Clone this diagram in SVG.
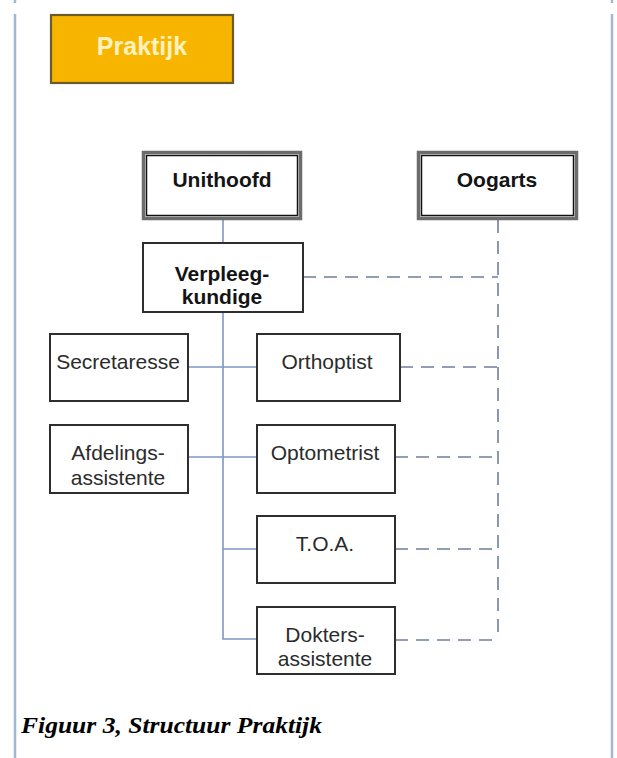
<svg xmlns="http://www.w3.org/2000/svg" width="617" height="758" viewBox="0 0 617 758">
  <style>
    .frame { stroke: #a3b8d0; stroke-width: 2.5; fill: none; }
    .box { fill: #ffffff; stroke: #2e2e2e; stroke-width: 2; }
    .outer { fill: #ffffff; stroke: #6c6c6c; stroke-width: 3.5; }
    .inner { fill: none; stroke: #111111; stroke-width: 1.5; }
    .solid { stroke: #7f97c4; stroke-width: 1.6; fill: none; }
    .dash { stroke: #6f7f9f; stroke-width: 1.6; fill: none; stroke-dasharray: 13 8; }
    .bold { font-family: "Liberation Sans", Arial, sans-serif; font-weight: bold; font-size: 21px; fill: #141414; text-anchor: middle; }
    .reg { font-family: "Liberation Sans", Arial, sans-serif; font-size: 21px; fill: #2b2b2b; text-anchor: middle; }
    .caption { font-family: "Liberation Serif", "Times New Roman", serif; font-weight: bold; font-style: italic; font-size: 24px; fill: #000000; }
  </style>

  <rect width="617" height="758" fill="#ffffff"/>

  <!-- page frame -->
  <g id="frame">
    <line class="frame" x1="15" y1="14" x2="15" y2="758"/>
    <line class="frame" x1="612" y1="14" x2="612" y2="758"/>
    <line class="frame" x1="15" y1="0" x2="15" y2="3"/>
    <line class="frame" x1="612" y1="0" x2="612" y2="3"/>
  </g>

  <!-- title tab -->
  <g id="praktijk">
    <rect x="51" y="15" width="182" height="68" fill="#f7b500" stroke="#6b5a2c" stroke-width="2.2"/>
    <text x="142" y="55" font-family="'Liberation Sans', Arial, sans-serif" font-weight="bold" font-size="25" fill="#fff2bf" text-anchor="middle">Praktijk</text>
  </g>

  <!-- connectors -->
  <g id="connectors">
    <!-- reporting lines -->
    <line class="solid" x1="223" y1="220" x2="223" y2="242"/>
    <polyline class="solid" points="223,312 223,639 257,639"/>
    <line class="solid" x1="188" y1="367" x2="257" y2="367"/>
    <line class="solid" x1="188" y1="457" x2="257" y2="457"/>
    <line class="solid" x1="223" y1="549" x2="257" y2="549"/>
    <!-- medical supervision lines -->
    <line class="dash" x1="498" y1="220" x2="498" y2="640"/>
    <line class="dash" x1="303" y1="277" x2="498" y2="277"/>
    <line class="dash" x1="400" y1="367" x2="498" y2="367"/>
    <line class="dash" x1="395" y1="457" x2="498" y2="457"/>
    <line class="dash" x1="395" y1="549" x2="498" y2="549"/>
    <line class="dash" x1="395" y1="640" x2="498" y2="640"/>
  </g>

  <g id="unithoofd">
    <rect class="outer" x="143.5" y="152.5" width="157" height="66"/>
    <rect class="inner" x="146.5" y="155.5" width="151" height="60"/>
    <text class="bold" x="222" y="187">Unithoofd</text>
  </g>

  <g id="oogarts">
    <rect class="outer" x="418.5" y="152.5" width="158" height="66"/>
    <rect class="inner" x="421.5" y="155.5" width="152" height="60"/>
    <text class="bold" x="497" y="187">Oogarts</text>
  </g>

  <g id="verpleegkundige">
    <rect class="box" x="143" y="243" width="160" height="69" stroke="#111111"/>
    <text class="bold" x="222" y="281">Verpleeg-</text>
    <text class="bold" x="222" y="304">kundige</text>
  </g>

  <g id="secretaresse">
    <rect class="box" x="50" y="334" width="138" height="67"/>
    <text class="reg" x="118" y="369">Secretaresse</text>
  </g>

  <g id="afdelingsassistente">
    <rect class="box" x="50" y="425" width="138" height="68"/>
    <text class="reg" x="118" y="460">Afdelings-</text>
    <text class="reg" x="118" y="485">assistente</text>
  </g>

  <g id="orthoptist">
    <rect class="box" x="257" y="334" width="143" height="67"/>
    <text class="reg" x="327" y="369">Orthoptist</text>
  </g>

  <g id="optometrist">
    <rect class="box" x="257" y="425" width="138" height="68"/>
    <text class="reg" x="325" y="460">Optometrist</text>
  </g>

  <g id="toa">
    <rect class="box" x="257" y="516" width="138" height="67"/>
    <text class="reg" x="325" y="551">T.O.A.</text>
  </g>

  <g id="doktersassistente">
    <rect class="box" x="257" y="607" width="138" height="67"/>
    <text class="reg" x="325" y="642">Dokters-</text>
    <text class="reg" x="325" y="666">assistente</text>
  </g>

  <text class="caption" x="21" y="733" textLength="301" lengthAdjust="spacingAndGlyphs">Figuur 3, Structuur Praktijk</text>
</svg>
